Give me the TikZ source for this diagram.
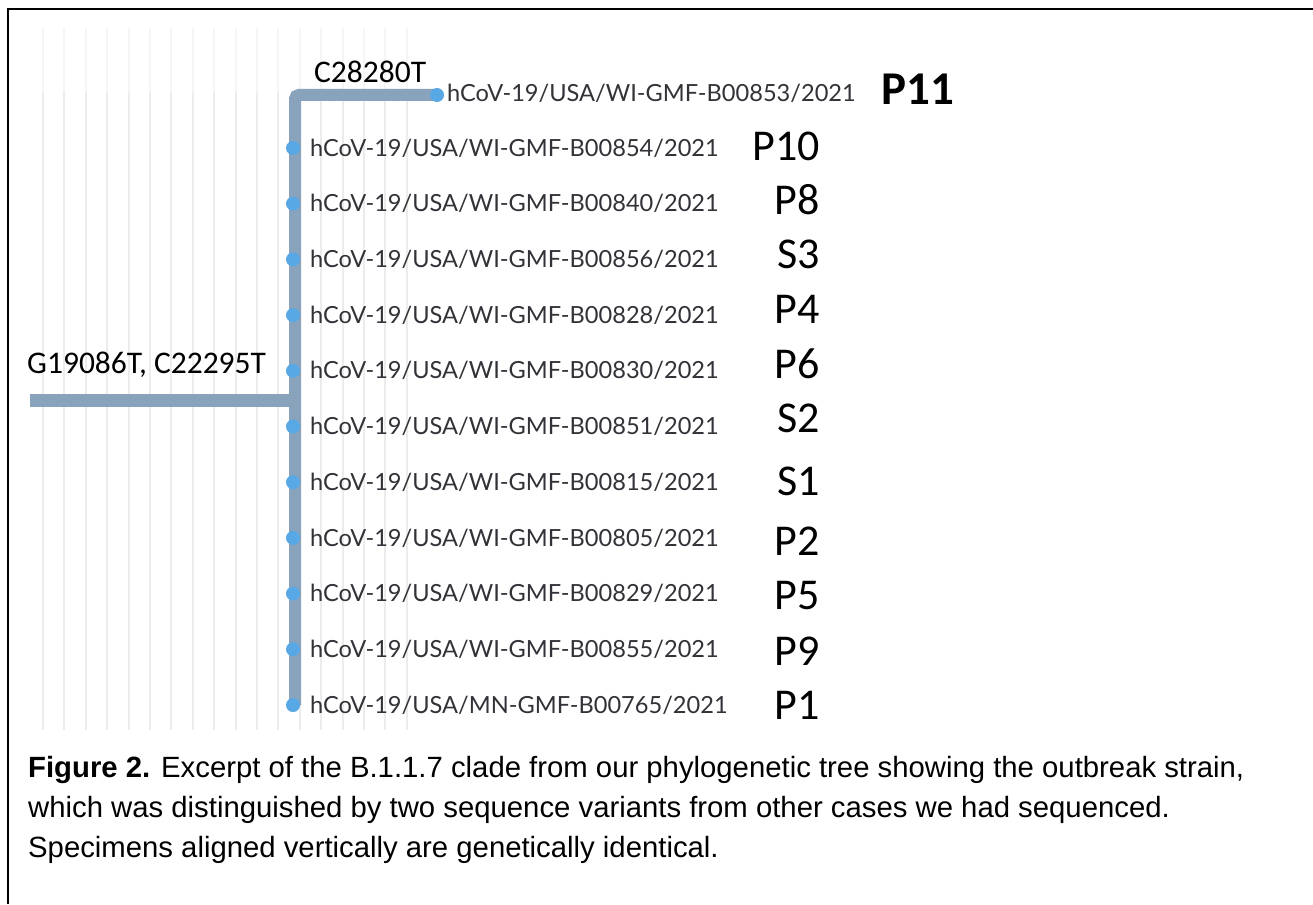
\documentclass[tikz,border=0pt]{standalone}
\usepackage{fontspec}
\setmainfont{Liberation Sans}
\newfontfamily\latofont{Lato}
\newfontfamily\carlitofont{Carlito}
\definecolor{branchcol}{RGB}{138,163,188}
\definecolor{dotcol}{RGB}{88,168,230}
\definecolor{gridcol}{RGB}{236,236,236}
\definecolor{gridtop}{RGB}{245,245,245}
\definecolor{leaftext}{RGB}{50,50,56}
\begin{document}
\begin{tikzpicture}[x=1pt,y=-1pt,
  branch/.style={draw=branchcol,line width=13pt},
  dotnode/.style={circle,fill=dotcol,inner sep=0pt,minimum size=14pt},
  leaf/.style={anchor=west,inner sep=0pt,text=leaftext,font=\latofont\fontsize{23.6}{26}\selectfont},
  plabel/.style={anchor=east,inner sep=0pt,font=\carlitofont\fontsize{44}{48}\selectfont},
  mut/.style={inner sep=0pt,font=\carlitofont\fontsize{31.5}{34}\selectfont},
  captext/.style={anchor=base west,inner sep=0pt,font=\fontsize{29.3}{40}\selectfont},
  gridline/.style={draw=gridcol,line width=2pt},
  gridup/.style={draw=gridtop,line width=2pt}]
\useasboundingbox (0,0) rectangle (1313,904);
\fill[white] (0,0) rectangle (1313,904);
% faint grid
\foreach \i in {0,...,17} {
  \draw[gridup] (43+21.4*\i,28) -- (43+21.4*\i,92);
  \draw[gridline] (43+21.4*\i,92) -- (43+21.4*\i,730);
}
% frame
\draw[line width=2.5pt] (8,904) -- (8,9) -- (1313,9);
% tree coordinates
\coordinate (r0) at (30,400);
\coordinate (j) at (295,400);
\coordinate (jt) at (295,95);
\coordinate (jb) at (295,705);
\draw[branch] (r0) -- (j);
\draw[branch,line width=12pt,rounded corners=4pt] (jb) -- (jt) -- (437,95);
% mutation labels
\node[mut,anchor=west] (m1) at (314,72) {C28280T};
\node[mut,anchor=west] (m2) at (27,365) {G19086T, C22295T};
% P11 branch tip
\node[dotnode] (d0) at (437,95) {};
\node[leaf] (l0) at (447,93) {hCoV-19/USA/WI-GMF-B00853/2021};
\node[anchor=west,inner sep=0pt,font=\carlitofont\bfseries\fontsize{47}{50}\selectfont] (p0) at (881,89) {P11};
% other tips
\foreach \n/\lab/\pl/\py [count=\k from 0] in {
  1/B00854/P10/146, 2/B00840/P8/200, 3/B00856/S3/254, 4/B00828/P4/309,
  5/B00830/P6/364, 6/B00851/S2/418, 7/B00815/S1/481, 8/B00805/P2/541,
  9/B00829/P5/596, 10/B00855/P9/651} {
  \node[dotnode] (d\n) at (293,148+55.7*\k) {};
  \node[leaf] (l\n) at (310,148+55.7*\k) {hCoV-19/USA/WI-GMF-\lab/2021};
  \node[plabel] (p\n) at (820,\py) {\pl};
}
\node[dotnode] (d11) at (293,705) {};
\node[leaf] (l11) at (310,705) {hCoV-19/USA/MN-GMF-B00765/2021};
\node[plabel] (p11) at (820,705) {P1};
% caption
\node[captext] (c1) at (28,777) {\textbf{Figure 2.} Excerpt of the B.1.1.7 clade from our phylogenetic tree showing the outbreak strain,};
\node[captext] (c2) at (28,817) {which was distinguished by two sequence variants from other cases we had sequenced.};
\node[captext] (c3) at (28,857) {Specimens aligned vertically are genetically identical.};
\end{tikzpicture}
\end{document}
